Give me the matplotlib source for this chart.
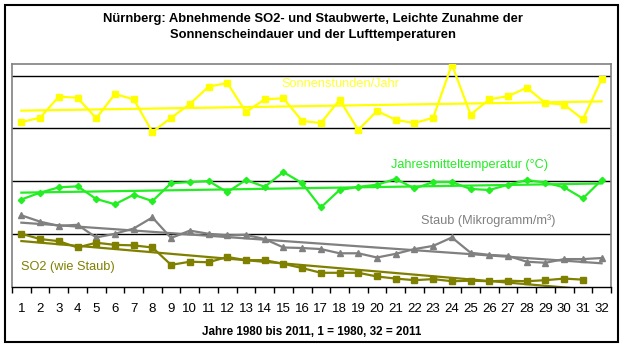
import numpy as np
import matplotlib
matplotlib.use("Agg")
import matplotlib.pyplot as plt
import matplotlib.patches as mpatches

plt.rcParams['font.family'] = ['Liberation Sans', 'DejaVu Sans']

# Jahre 1..32 (1 = 1980, 32 = 2011)
jahre = np.arange(1, 33)

# values, in the chart's own (unlabelled) y units
sonne = [31.2, 32.0, 36.0, 35.8, 31.9, 36.5, 35.5, 29.3, 32.0, 34.6, 37.9, 38.6,
         33.1, 35.5, 35.7, 31.4, 31.0, 35.4, 29.7, 33.3, 31.6, 31.0, 32.0, 42.1,
         32.6, 35.5, 36.1, 37.7, 34.8, 34.5, 31.7, 39.3]
temp = [16.5, 17.8, 18.8, 19.0, 16.6, 15.6, 17.4, 16.2, 19.6, 19.8, 20.0, 17.9,
        20.2, 18.9, 21.7, 19.6, 15.0, 18.3, 18.9, 19.3, 20.4, 18.6, 19.8, 19.8,
        18.5, 18.3, 19.3, 20.2, 19.7, 18.8, 16.7, 20.2]
staub = [13.5, 12.3, 11.5, 11.7, 9.3, 10.0, 11.0, 13.1, 9.2, 10.6, 10.0, 9.7,
         9.8, 9.0, 7.4, 7.3, 7.1, 6.3, 6.3, 5.5, 6.2, 7.1, 7.7, 9.3,
         6.4, 6.0, 5.8, 4.7, 4.5, 5.2, 5.2, 5.4]
so2 = [10.0, 9.0, 8.6, 7.4, 8.3, 7.9, 7.8, 7.4, 4.1, 4.7, 4.6, 5.6,
       5.0, 5.0, 4.3, 3.5, 2.6, 2.6, 2.6, 1.9, 1.5, 1.2, 1.4, 1.0,
       1.1, 1.0, 1.1, 1.0, 1.2, 1.5, 1.3, np.nan]

titel = "Nürnberg: Abnehmende SO2- und Staubwerte, Leichte Zunahme der\nSonnenscheindauer und der Lufttemperaturen"
x_titel = "Jahre 1980 bis 2011, 1 = 1980, 32 = 2011"

W, H = 624, 348
fig = plt.figure(figsize=(W / 100, H / 100), dpi=100)
ax = fig.add_axes([12 / W, (H - 286.5) / H, (611 - 12) / W, (286.5 - 64) / H])

serien = [
    (sonne, '#FFFF00', 's', 4.5),
    (temp, '#22EE22', 'D', 3.2),
    (staub, '#808080', '^', 4.0),
    (so2, '#808000', 's', 4.0),
]
for werte, farbe, marker, ms in serien:
    y = np.array(werte, dtype=float)
    ok = ~np.isnan(y)
    ax.plot(jahre, y, color=farbe, lw=1.6, marker=marker, ms=ms,
            mec=farbe, mfc=farbe, zorder=3)
    # linearer Trend wie in Excel
    k, d = np.polyfit(jahre[ok], y[ok], 1)
    ax.plot(jahre[ok], k * jahre[ok] + d, color=farbe, lw=1.6, zorder=2)

ax.set_xlim(0.5, 32.5)
ax.set_ylim(0, 42.2)
for g in [10, 20, 30, 40]:
    ax.axhline(g, color='black', lw=1.0, zorder=1)

ax.set_yticks([])
ax.set_xticks(jahre)
ax.set_xticklabels([str(j) for j in jahre], fontsize=9.5)
ax.set_xticks(np.arange(0.5, 33, 1), minor=True)
ax.tick_params(axis='x', which='major', length=0, pad=12)
ax.tick_params(axis='x', which='minor', length=4, width=1, direction='out')
for s in ['left', 'right', 'top']:
    ax.spines[s].set_color('#808080')
    ax.spines[s].set_linewidth(1.2)
ax.spines['bottom'].set_color('black')
ax.spines['bottom'].set_linewidth(1.0)

# Beschriftungen im Diagramm (Pixel von oben links)
labels = [
    (340, 84, "Sonnenstunden/Jahr", '#FFFF33'),
    (470, 165, "Jahresmitteltemperatur (°C)", '#22EE22'),
    (488, 221, "Staub (Mikrogramm/m³)", '#808080'),
    (68, 267, "SO2 (wie Staub)", '#808000'),
]
for px, py, txt, farbe in labels:
    fig.text(px / W, 1 - py / H, txt, color=farbe, fontsize=9.2,
             ha='center', va='center')

fig.text(313 / W, 1 - 27 / H, titel, ha='center', va='center', fontsize=9.4,
         fontweight='bold', linespacing=1.35)
fig.text(312 / W, 1 - 332 / H, x_titel, ha='center', va='center', fontsize=8.4,
         fontweight='bold')

fig.patches.append(mpatches.Rectangle((4.5 / W, 1 - 342 / H), (618 - 4.5) / W,
                                      (342 - 4.5) / H, transform=fig.transFigure,
                                      fill=False, edgecolor='black', lw=1.5))

fig.savefig("out.png", dpi=100)
